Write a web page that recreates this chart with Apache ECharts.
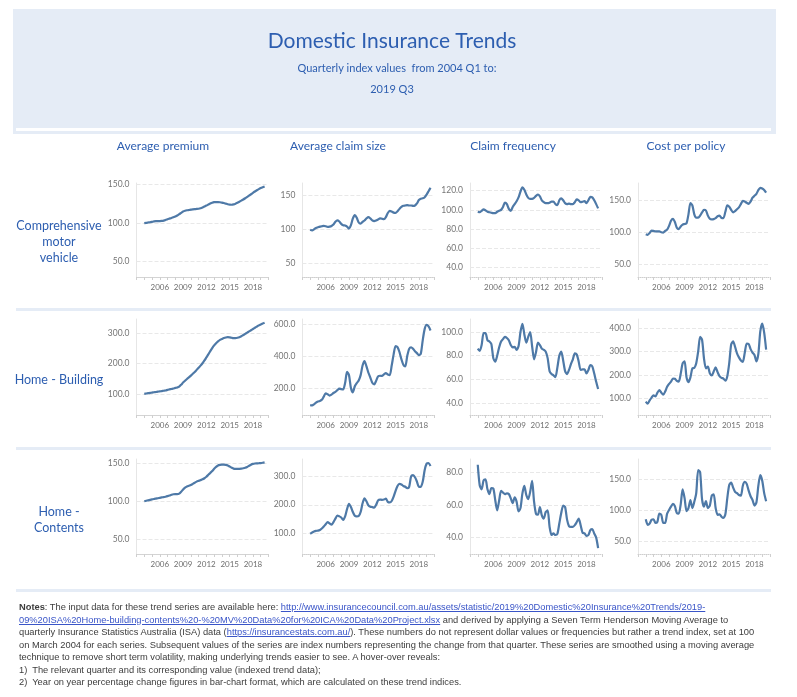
<!DOCTYPE html>
<html>
<head>
<meta charset="utf-8">
<script src="https://cdn.jsdelivr.net/npm/echarts@6/dist/echarts.min.js"></script>
<style>
  html, body { margin: 0; padding: 0; background: #ffffff; }
  #wrap { position: relative; width: 797px; height: 697px; overflow: hidden; }
  #chart { position: absolute; left: 0; top: 0; width: 797px; height: 697px; }
  #notes { position: absolute; left: 19px; top: 601px; font-family: "Liberation Sans", Arial, sans-serif;
           font-size: 9.3px; line-height: 12.5px; color: #3c3c3c; white-space: nowrap; }
  #notes a { color: #3a55c8; text-decoration: underline; }
</style>
</head>
<body>
<div id="wrap">
  <div id="chart"></div>
  <div id="notes">
    <b>Notes</b>: The input data for these trend series are available here: <a>http://www.insurancecouncil.com.au/assets/statistic/2019%20Domestic%20Insurance%20Trends/2019-</a><br>
    <a>09%20ISA%20Home-building-contents%20-%20MV%20Data%20for%20ICA%20Data%20Project.xlsx</a> and derived by applying a Seven Term Henderson Moving Average to<br>
    quarterly Insurance Statistics Australia (ISA) data (<a>https://insurancestats.com.au/</a>). These numbers do not represent dollar values or frequencies but rather a trend index, set at 100<br>
    on March 2004 for each series. Subsequent values of the series are index numbers representing the change from that quarter. These series are smoothed using a moving average<br>
    technique to remove short term volatility, making underlying trends easier to see. A hover-over reveals:<br>
    1)&nbsp; The relevant quarter and its corresponding value (indexed trend data);<br>
    2)&nbsp; Year on year percentage change figures in bar-chart format, which are calculated on these trend indices.
  </div>
</div>
<script>
// ---------------- DATA ----------------
const titleText = "Domestic Insurance Trends";
const subtitleLines = ["Quarterly index values  from 2004 Q1 to:", "2019 Q3"];
const measures = ["Average premium", "Average claim size", "Claim frequency", "Cost per policy"];
const segments = ["Comprehensive\nmotor\nvehicle", "Home - Building", "Home -\nContents"];

// quarters 2004 Q1 .. 2019 Q3 (63 quarters)
const firstYear = 2004;
const quarterCount = 63;
const quarterPos = [];
for (let i = 0; i < quarterCount; i++) quarterPos.push(firstYear + i / 4);

const yearTicks = [2006, 2009, 2012, 2015, 2018];

// Comprehensive motor vehicle
const motorPremium = [
  100.0,100.3,100.7,101.1, 101.6,102.1,102.4,102.5, 102.6,102.8,103.2,104.0, 105.0,105.8,106.6,107.5,
  108.5,109.8,111.5,113.3, 115.0,116.0,116.6,117.0, 117.4,117.8,118.1,118.3, 118.6,119.3,120.3,121.5,
  122.7,124.0,125.3,126.4, 127.1,127.3,127.2,127.0, 126.6,126.0,125.2,124.4, 123.9,123.8,124.3,125.2,
  126.4,127.7,129.1,130.6, 132.2,133.9,135.6,137.4, 139.2,141.0,142.6,144.1, 145.4,146.5,147.5];
const motorClaimSize = [
  99.5,98.5,100,102, 103,104,104.5,105, 104.5,103.5,104,105, 107,111,113,111.5,
  108,106,105.5,104, 101,106,116,121, 117,110,108.5,111, 113,116,118,116,
  113,112,113,114.5, 116,115.5,115,118, 124,127,126,124.5, 124,126.5,130,133,
  134.5,135,135.5,135, 135,134.5,135,138, 143,145,145.5,147, 151,156,161];
const motorFrequency = [
  98,97.5,99,100.5, 99.5,98,97.5,97, 96.5,96.5,98,99, 100,103,107.5,106,
  101,99,103,106, 109,113,119,123.5, 121,116,112.5,111.5, 111.5,112.5,114.5,116,
  114,110,108,107, 107,107.5,108.5,108.5, 106,105,110,112, 110,107,106,106.5,
  106,106,108,111, 110,108,108.5,109, 107,110,113.5,113, 110,106,101.5];
const motorCostPerPolicy = [
  97,96,99,102.5, 102,101.5,101.5,101.5, 100,99.5,102,104, 110,118,121,116,
  107,105,109,112, 113,114,128,145.5, 142,128,123,123, 126,131,135,134,
  126,121,120,120.5, 122,125,126,122.5, 122,132,142,140, 135,131,133,136,
  139,144,149,148, 146,144.5,148,154, 157,160,166,169.5, 168.5,166,162];

// Home - Building
const buildingPremium = [
  100,101,102,103, 104,105,106,107, 108,109,110,111, 113,114.5,116,117.5,
  119.5,121,124,130, 137,143,149,154, 160,166,172,179, 186,193,201,210,
  220,230,241,251, 260,267,273,278, 281,284,286,287, 286.5,285,284,284,
  285,287,290,294, 298,302,306,310, 314,318,322,326, 329,332,335];
const buildingClaimSize = [
  92,90,97,108, 115,118,125,145, 166,160,152,158, 168,175,186,196,
  192,190,230,300, 280,200,172,210, 230,246,280,340, 368,335,295,265,
  232,222,245,272, 276,275,285,292, 284,280,340,410, 462,455,425,380,
  345,335,400,445, 455,445,430,418, 405,415,500,570, 595,585,560];
const buildingFrequency = [
  86,84,89,99, 99,93,92,90, 78,75,80,87, 92,94,96,95,
  93,89,87,87.5, 85,88,100,107, 98,91,96,100, 88,77,83,91,
  89,86,85,83.5, 78,67,64.5,63.5, 62,70,80,83.5, 76,67,64.5,68,
  73,77,82,81, 75,68,68.5,68.5, 65,68,72,71, 65,58,52];
const buildingCostPerPolicy = [
  87,78,92,104, 114,109,125,136, 125,116,130,150, 162,172,185,184,
  175,172,205,250, 258,190,170,190, 228,230,250,300, 362,350,270,228,
  236,207,198,215, 232,212,195,188, 185,176,195,250, 330,343,320,292,
  275,262,256,295, 333,332,310,295, 285,258,290,385, 418,380,308];

// Home - Contents
const contentsPremium = [
  100,100.6,101.2,101.8, 102.4,103,103.5,104, 104.5,105,105.5,106, 106.7,107.5,108.5,109.2,
  109.3,109.3,110,112.5, 115.5,118,119.5,120.5, 121.5,123,124.5,126, 127,128,129,130.5,
  132.5,135,137.5,140, 143,145.5,147.5,148.2, 148.5,148.5,148.2,147.5, 146,144.5,143.2,142.8,
  142.8,143,143.3,143.8, 144.5,145.5,147,148.5, 149.5,150,150.2,150.4, 150.6,151,151.5];
const contentsClaimSize = [
  100,104,108,110, 110.5,113,118,125, 133,140,136,131, 140,152,163,160,
  156,148,160,185, 203,192,175,162, 160,161,175,205, 222,212,198,193,
  192,190,200,215, 218,217,218,221, 210,208,213,228, 248,265,272,270,
  265,262,257,262, 298,302,295,280, 262,262,280,320, 342,344,334];
const contentsFrequency = [
  84.5,72,69.5,75, 75.5,69.5,66.5,70.2, 70,63,56.6,62.5, 68.5,67.5,66.5,67,
  66.6,64,61,64.6, 62,56,58,67, 71.6,66,63.5,68, 74.6,62,54.5,54,
  58.6,53.6,51.6,55.6, 56.6,46.6,41.6,42.6, 41.6,42.2,48.6,55, 59.6,58.6,51,47,
  46.6,46.6,47.6,49.5, 51.6,47.6,43,42.6, 41,41.6,44.6,45.2, 42.5,40,33.6];
const contentsCostPerPolicy = [
  86,77,79,85, 86,80,82,95, 93,80,80,95, 101,106.4,110.6,107,
  96,95,110,134, 120,99,104,117, 104,114,128,165, 162,118,106.4,115,
  104,108,124,126, 104,93,94,90, 88,94,120,141, 145,137,130,128,
  125,124,140,146, 143,132,123,117, 108,113,140,157, 148,128,115];

const panelSeries = [
  [motorPremium, motorClaimSize, motorFrequency, motorCostPerPolicy],
  [buildingPremium, buildingClaimSize, buildingFrequency, buildingCostPerPolicy],
  [contentsPremium, contentsClaimSize, contentsFrequency, contentsCostPerPolicy]
];

// y tick labels per panel
const motorYTicks = [[50,100,150],[50,100,150],[40,60,80,100,120],[50,100,150]];
const buildingYTicks = [[100,200,300],[200,400,600],[40,60,80,100],[100,200,300,400]];
const contentsYTicks = [[50,100,150],[100,200,300],[40,60,80],[50,100,150]];
const panelYTicks = [motorYTicks, buildingYTicks, contentsYTicks];

// ---------------- LAYOUT / STYLE ----------------
const blue = '#2d5eb0';
const lineColor = '#4e79a7';
const uiFont = 'Lato, "Noto Sans", sans-serif';
const colLeft = [136.5, 302.4, 470, 638];
const plotW = 132;
const rowTop = [183, 319, 459];
const rowH = [94, 96, 95];
const yMin = 30;
const yMax = [[152,168,128,177],[347,632,111,438],[156,358,88,183]];
const yDecimals = [[1,0,1,1],[1,1,1,1],[1,1,1,1]];
const colHeaderX = [163, 338, 513, 686];
const rowLabelY = [242, 380, 519.5];
const bandY = [308, 447, 589];

const grids = [], xAxes = [], yAxes = [], series = [];
for (let r = 0; r < 3; r++) {
  for (let c = 0; c < 4; c++) {
    const i = grids.length;
    const ticks = panelYTicks[r][c];
    const dec = yDecimals[r][c];
    grids.push({ left: colLeft[c], top: rowTop[r], width: plotW, height: rowH[r] });
    xAxes.push({
      gridIndex: i, type: 'value', min: 2003, max: 2020, interval: 1,
      axisLine: { show: true, onZero: false, lineStyle: { color: '#cfcfcf', type: 'dotted', width: 1 } },
      axisTick: { show: true, length: 3, lineStyle: { color: '#cfcfcf' } },
      splitLine: { show: false },
      axisLabel: {
        fontSize: 8, color: '#6f6f6f', margin: 6, fontFamily: uiFont,
        formatter: function (v) {
          const y = Math.round(v);
          return (Math.abs(v - y) < 1e-6 && yearTicks.indexOf(y) >= 0) ? String(y) : '';
        }
      }
    });
    yAxes.push({
      gridIndex: i, type: 'value', min: yMin, max: yMax[r][c], interval: 10,
      axisLine: { show: true, lineStyle: { color: '#e6e6e6', width: 1 } },
      axisTick: { show: false },
      splitLine: { show: false },
      axisLabel: {
        fontSize: 8.5, color: '#757575', margin: 7, fontFamily: uiFont,
        formatter: function (v) {
          for (const t of ticks) { if (Math.abs(v - t) < 1e-6) return t.toFixed(dec); }
          return '';
        }
      }
    });
    const vals = panelSeries[r][c];
    const points = vals.map((v, k) => [quarterPos[k], v]);
    // gridlines, drawn beneath the trend line
    series.push({
      type: 'line', xAxisIndex: i, yAxisIndex: i, z: 1,
      data: points, symbol: 'none', showSymbol: false, silent: true,
      lineStyle: { opacity: 0 }, animation: false,
      markLine: {
        silent: true, symbol: 'none', animation: false, z: 1,
        label: { show: false },
        lineStyle: { color: '#e8e8e8', type: 'dashed', width: 1 },
        data: ticks.map(t => ({ yAxis: t }))
      }
    });
    series.push({
      type: 'line', xAxisIndex: i, yAxisIndex: i, z: 6,
      data: points,
      symbol: 'none', showSymbol: false, smooth: 0.25,
      lineStyle: { color: lineColor, width: 2.2 },
      itemStyle: { color: lineColor },
      animation: false
    });
  }
}

const graphics = [
  { type: 'rect', shape: { x: 13, y: 9, width: 763, height: 125 }, style: { fill: '#e5ecf6' }, z: -10 },
  { type: 'rect', shape: { x: 16, y: 128, width: 755, height: 3 }, style: { fill: '#ffffff' }, z: -9 },
  { type: 'text', style: { text: titleText, x: 392, y: 41, fill: blue, font: '21px ' + uiFont,
      textAlign: 'center', align: 'center', textVerticalAlign: 'middle', verticalAlign: 'middle' } },
  { type: 'text', style: { text: subtitleLines[0], x: 397, y: 68, fill: blue, font: '11px ' + uiFont,
      textAlign: 'center', align: 'center', textVerticalAlign: 'middle', verticalAlign: 'middle' } },
  { type: 'text', style: { text: subtitleLines[1], x: 392, y: 89, fill: blue, font: '11px ' + uiFont,
      textAlign: 'center', align: 'center', textVerticalAlign: 'middle', verticalAlign: 'middle' } }
];
bandY.forEach(y => graphics.push({ type: 'rect', shape: { x: 16, y: y, width: 755, height: 3 }, style: { fill: '#e5ecf6' }, z: -10 }));
measures.forEach((m, c) => graphics.push({ type: 'text', style: { text: m, x: colHeaderX[c], y: 146.5, fill: blue,
  font: '12px ' + uiFont, textAlign: 'center', align: 'center', textVerticalAlign: 'middle', verticalAlign: 'middle' } }));
segments.forEach((s, r) => graphics.push({ type: 'text', style: { text: s, x: 59, y: rowLabelY[r], fill: blue,
  font: '12.5px ' + uiFont, lineHeight: 16, textAlign: 'center', align: 'center', textVerticalAlign: 'middle', verticalAlign: 'middle' } }));

const chart = echarts.init(document.getElementById('chart'), null, { renderer: 'canvas', width: 797, height: 697 });
chart.setOption({
  backgroundColor: '#ffffff',
  animation: false,
  textStyle: { fontFamily: uiFont },
  grid: grids, xAxis: xAxes, yAxis: yAxes, series: series,
  graphic: graphics
});
</script>
</body>
</html>
